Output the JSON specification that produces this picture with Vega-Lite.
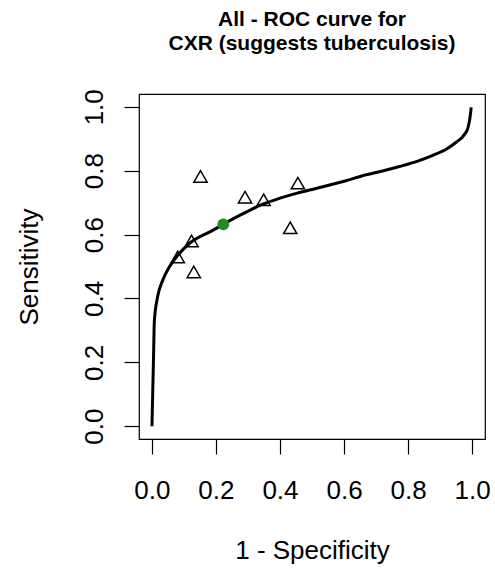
{
  "$schema": "https://vega.github.io/schema/vega-lite/v6.json",
  "autosize": {"type": "none"},
  "padding": {"left": 139, "top": 94, "right": 10, "bottom": 133},
  "width": 346,
  "height": 345,
  "background": "white",
  "config": {
    "font": "Liberation Sans",
    "view": {"stroke": "black", "strokeWidth": 1.2},
    "axis": {"grid": false, "domain": false, "tickColor": "black", "tickWidth": 1.2, "tickSize": 15,
             "labelColor": "black", "labelFontSize": 26, "labelFont": "Liberation Sans",
             "titleColor": "black", "titleFontSize": 26, "titleFontWeight": "normal", "titleFont": "Liberation Sans"}
  },
  "title": {
    "text": ["All - ROC curve for", "CXR (suggests tuberculosis)"],
    "fontSize": 21,
    "fontWeight": "bold",
    "font": "Liberation Sans",
    "color": "black",
    "lineHeight": 24,
    "baseline": "alphabetic",
    "anchor": "middle",
    "offset": 18
  },
  "layer": [
    {
      "data": {"values": [
        {"fpr": 0.0005, "sens": 0.0},
        {"fpr": 0.005, "sens": 0.2},
        {"fpr": 0.008, "sens": 0.33},
        {"fpr": 0.018, "sens": 0.405},
        {"fpr": 0.034, "sens": 0.457},
        {"fpr": 0.055, "sens": 0.499},
        {"fpr": 0.081, "sens": 0.535},
        {"fpr": 0.117, "sens": 0.572},
        {"fpr": 0.19, "sens": 0.613},
        {"fpr": 0.223, "sens": 0.632},
        {"fpr": 0.242, "sens": 0.643},
        {"fpr": 0.3, "sens": 0.673},
        {"fpr": 0.346, "sens": 0.695},
        {"fpr": 0.4, "sens": 0.714},
        {"fpr": 0.451, "sens": 0.729},
        {"fpr": 0.5, "sens": 0.741},
        {"fpr": 0.555, "sens": 0.755},
        {"fpr": 0.6, "sens": 0.767},
        {"fpr": 0.669, "sens": 0.787},
        {"fpr": 0.72, "sens": 0.799},
        {"fpr": 0.773, "sens": 0.813},
        {"fpr": 0.83, "sens": 0.83},
        {"fpr": 0.877, "sens": 0.848},
        {"fpr": 0.92, "sens": 0.868},
        {"fpr": 0.95, "sens": 0.889},
        {"fpr": 0.975, "sens": 0.912},
        {"fpr": 0.987, "sens": 0.935},
        {"fpr": 0.993, "sens": 0.965},
        {"fpr": 0.997, "sens": 0.998}
      ]},
      "mark": {"type": "line", "color": "black", "strokeWidth": 3, "interpolate": "monotone"},
      "encoding": {
        "x": {"field": "fpr", "type": "quantitative", "sort": null,
              "scale": {"domain": [-0.04, 1.04], "nice": false, "zero": false},
              "axis": {"values": [0, 0.2, 0.4, 0.6, 0.8, 1.0], "format": ".1f", "title": "1 - Specificity",
                       "labelPadding": 44, "labelBaseline": "alphabetic",
                       "titleX": 173, "titleY": 119, "titleBaseline": "alphabetic", "titleAnchor": "middle"}},
        "y": {"field": "sens", "type": "quantitative",
              "scale": {"domain": [-0.04, 1.04], "nice": false, "zero": false},
              "axis": {"values": [0, 0.2, 0.4, 0.6, 0.8, 1.0], "format": ".1f", "title": "Sensitivity",
                       "labelAngle": 270, "labelAlign": "center", "labelBaseline": "alphabetic", "labelPadding": 22,
                       "titleAngle": 270, "titleX": -102, "titleY": 172.5, "titleAlign": "center", "titleBaseline": "alphabetic"}}
      }
    },
    {
      "data": {"values": [
        {"fpr": 0.152, "sens": 0.782},
        {"fpr": 0.291, "sens": 0.717},
        {"fpr": 0.349, "sens": 0.709},
        {"fpr": 0.456, "sens": 0.761},
        {"fpr": 0.432, "sens": 0.621},
        {"fpr": 0.124, "sens": 0.580},
        {"fpr": 0.081, "sens": 0.530},
        {"fpr": 0.131, "sens": 0.483}
      ]},
      "mark": {"type": "point", "shape": "triangle-up", "filled": false, "stroke": "black", "strokeWidth": 1.5, "size": 175, "opacity": 1},
      "encoding": {
        "x": {"field": "fpr", "type": "quantitative"},
        "y": {"field": "sens", "type": "quantitative"}
      }
    },
    {
      "data": {"values": [{"fpr": 0.223, "sens": 0.632}]},
      "mark": {"type": "circle", "color": "#228B22", "size": 140, "opacity": 1},
      "encoding": {
        "x": {"field": "fpr", "type": "quantitative"},
        "y": {"field": "sens", "type": "quantitative"}
      }
    }
  ]
}
